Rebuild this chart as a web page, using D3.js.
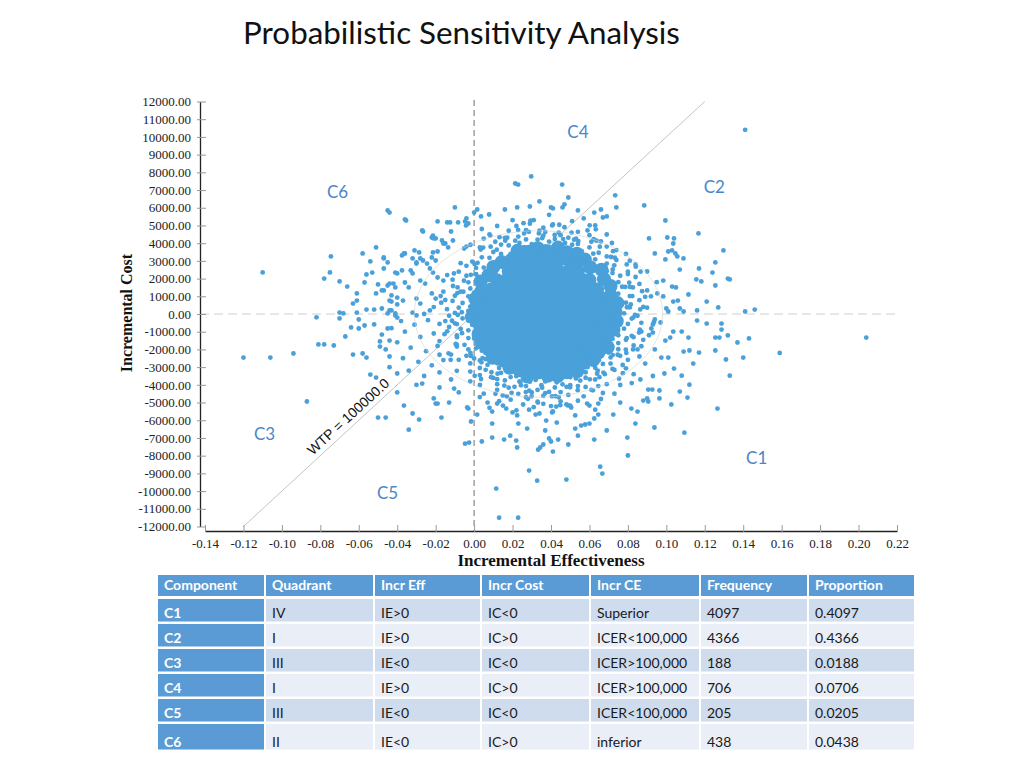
<!DOCTYPE html>
<html><head><meta charset="utf-8">
<script src="https://cdn.jsdelivr.net/npm/d3@7"></script>
<style>body{margin:0;background:#fff}svg{display:block}</style>
</head><body>
<svg id="chart" width="1024" height="768"></svg>
<script>
// ---------- DATA ----------
const xTicks = [-0.14,-0.12,-0.10,-0.08,-0.06,-0.04,-0.02,0.00,0.02,0.04,0.06,0.08,0.10,0.12,0.14,0.16,0.18,0.20,0.22];
const yTicks = [-12000,-11000,-10000,-9000,-8000,-7000,-6000,-5000,-4000,-3000,-2000,-1000,0,1000,2000,3000,4000,5000,6000,7000,8000,9000,10000,11000,12000];
const wtp = 100000;
const wtpEffRange = [-0.12, 0.12];

// dense centre of the cloud (drawn with large dots to render the solid blob)
const corePoints = [
[.024,3150],[.030,3250],[.036,3250],[.042,3250],[.048,3100],[.053,2900],[.019,2850],[.022,-2900],[.049,-2950],
[.028,2900],[.033,2880],[.038,2920],[.043,2900],
[.018,2400],[.023,2420],[.028,2380],[.034,2400],[.039,2410],[.044,2390],[.049,2400],[.054,2420],
[.012,1900],[.017,1920],[.022,1880],[.027,1900],[.032,1910],[.037,1890],[.042,1900],[.047,1920],[.052,1880],[.057,1900],[.060,1920],
[.009,1400],[.014,1420],[.019,1380],[.025,1400],[.030,1410],[.035,1390],[.040,1400],[.045,1420],[.050,1380],[.055,1400],[.060,1410],[.064,1390],
[.006,900],[.011,920],[.016,880],[.021,900],[.027,910],[.032,890],[.037,900],[.042,920],[.047,880],[.052,900],[.057,910],[.062,890],[.066,900],
[.005,400],[.009,420],[.014,380],[.019,400],[.024,410],[.029,390],[.034,400],[.040,420],[.045,380],[.050,400],[.055,410],[.060,390],[.065,400],[.068,420],
[.004,-100],[.008,-80],[.013,-120],[.018,-100],[.023,-90],[.028,-110],[.033,-100],[.038,-80],[.043,-120],[.048,-100],[.053,-90],[.058,-110],[.063,-100],[.068,-80],
[.005,-600],[.009,-580],[.014,-620],[.019,-600],[.024,-590],[.030,-610],[.035,-600],[.040,-580],[.045,-620],[.050,-600],[.055,-590],[.060,-610],[.065,-600],[.068,-620],
[.006,-1100],[.011,-1080],[.016,-1120],[.021,-1100],[.027,-1090],[.032,-1110],[.037,-1100],[.042,-1080],[.047,-1120],[.052,-1100],[.057,-1090],[.062,-1110],[.066,-1100],
[.009,-1600],[.014,-1580],[.019,-1620],[.024,-1600],[.030,-1590],[.035,-1610],[.040,-1600],[.045,-1580],[.050,-1620],[.055,-1600],[.060,-1590],[.064,-1610],
[.012,-2100],[.017,-2080],[.022,-2120],[.027,-2100],[.032,-2090],[.037,-2110],[.042,-2100],[.047,-2080],[.052,-2120],[.057,-2100],[.060,-2090],
[.018,-2600],[.023,-2580],[.028,-2620],[.034,-2600],[.039,-2590],[.044,-2610],[.049,-2600],[.054,-2580],
[.028,-3100],[.033,-3080],[.038,-3120],[.043,-3100]
];
// edge of the solid blob (also large dots)
const coreEdgePoints = [
[.0735,100],[.0746,615],[.071,1050],[.071,1580],[.0676,1970],[.0663,2500],[.0604,2640],[.0576,3080],[.0535,3400],[.0483,3490],[.0436,3750],[.0382,3550],[.0331,3710],[.0283,3520],[.0226,3570],[.0195,3060],[.0143,2930],[.010,2650],[.0075,2190],[.0034,1840],[.0037,1280],[.0006,855],[.001,350],[-.0012,-160],[.0028,-610],[.0023,-1130],[.0038,-1620],[.0075,-1990],[.0097,-2470],[.0152,-2620],[.0184,-3040],[.0235,-3170],[.0277,-3530],[.0333,-3300],[.0383,-3490],[.0435,-3510],[.0483,-3290],[.0536,-3230],[.0568,-2760],[.0619,-2600],[.0647,-2170],[.0695,-1880],[.069,-1290],[.0725,-890],[.0742,-410]
];

const innerRingPoints = [
[.072,-100],[.075,170],[.073,410],[.075,720],[.070,870],[.072,1190],[.070,1380],[.071,1740],[.068,1870],[.065,1980],[.066,2350],[.065,2670],[.061,2580],[.059,2850],[.058,3120],[.054,2990],[.053,3360],[.050,3310],[.048,3660],[.045,3300],[.043,3620],[.040,3520],[.037,3820],[.035,3610],[.032,3420],[.029,3660],[.026,3770],[.025,3330],[.022,3370],[.019,3390],[.018,2990],[.014,3090],[.013,2800],[.009,2840],[.011,2330],[.007,2330],[.006,2040],[.002,1980],[.003,1640],[.003,1340],[.000,1200],[-.003,1000],[.000,650],[-.002,420],[-.003,170],[.000,-100],[-.003,-370],[-.001,-610],[-.003,-920],[.002,-1070],[.000,-1390],[.002,-1580],[.001,-1940],[.004,-2070],[.007,-2180],[.006,-2550],[.007,-2870],[.012,-2780],[.013,-3050],[.014,-3320],[.018,-3190],[.019,-3560],[.022,-3510],[.024,-3860],[.027,-3500],[.029,-3820],[.032,-3720],[.035,-4020],[.037,-3810],[.040,-3620],[.043,-3860],[.046,-3970],[.047,-3530],[.050,-3570],[.053,-3590],[.054,-3190],[.058,-3290],[.059,-3000],[.063,-3040],[.062,-2530],[.065,-2600],[.066,-2240],[.070,-2180],[.069,-1840],[.069,-1540],[.072,-1400],[.075,-1200],[.072,-850],[.074,-620],[.075,-370],
[.078,40],[.081,370],[.079,640],[.081,1010],[.075,1150],[.077,1540],[.075,1800],[.076,2160],[.072,2310],[.069,2420],[.069,2850],[.069,3250],[.063,3090],[.062,3410],[.060,3760],[.056,3550],[.054,3960],[.051,3910],[.049,4310],[.045,3870],[.042,4230],[.039,4090],[.036,4420],[.033,4200],[.030,3950],[.027,4210],[.023,4370],[.022,3820],[.018,3870],[.014,3920],[.014,3400],[.010,3500],[.008,3170],[.004,3200],[.005,2620],[.001,2600],[.001,2250],[-.004,2160],[-.003,1790],[-.002,1440],[-.007,1260],[-.010,1030],[-.006,620],[-.008,360],[-.010,60],[-.006,-250],[-.009,-570],[-.007,-840],[-.009,-1210],[-.003,-1360],[-.005,-1740],[-.003,-2000],[-.004,-2360],[.000,-2510],[.003,-2620],[.003,-3050],[.003,-3450],[.009,-3290],[.010,-3610],[.012,-3960],[.016,-3750],[.018,-4160],[.021,-4110],[.023,-4510],[.027,-4070],[.030,-4430],[.033,-4290],[.036,-4620],[.039,-4400],[.042,-4150],[.045,-4410],[.049,-4570],[.050,-4020],[.054,-4070],[.058,-4120],[.058,-3600],[.063,-3700],[.064,-3370],[.068,-3400],[.067,-2820],[.071,-2800],[.071,-2450],[.076,-2360],[.075,-1990],[.075,-1640],[.079,-1460],[.082,-1230],[.078,-830],[.080,-560],[.082,-260]
];

const fringePoints = [
[.0795,380],[.0823,1010],[.0786,1530],[.080,2260],[.0721,2520],[.0712,3220],[.0648,3460],[.0622,4220],[.0542,4120],[.0473,4010],[.0419,4460],[.0354,4280],[.0285,4640],[.0236,4010],[.0162,4140],[.0118,3630],[.0034,3640],[.0018,2890],[.0009,2240],[-.0053,1880],[-.0056,1260],[-.0112,740],[-.0064,100],[-.010,-525],[-.0063,-1080],[-.009,-1840],[-.0019,-2200],[.0044,-2490],[.006,-3150],[.0122,-3370],[.0157,-4040],[.0236,-3810],[.0287,-4330],[.0354,-4160],[.0423,-4640],[.0481,-4110],[.053,-3640],[.0602,-3690],[.0643,-3200],[.072,-3100],[.0721,-2320],[.0789,-2010],[.0794,-1360],[.0862,-890],[.0828,-200],
[.0864,260],[.089,970],[.0826,1500],[.0866,2390],[.0794,2800],[.0732,3180],[.0717,4010],[.0637,4140],[.0601,5010],[.0507,4600],[.0443,5040],[.037,4630],[.0293,5270],[.0229,4750],[.0172,4310],[.0084,4430],[.0047,3750],[-.0052,3700],[-.004,2720],[-.0105,2290],[-.0086,1500],[-.0174,1010],[-.0141,270],[-.0115,-380],[-.0154,-1140],[-.0096,-1690],[-.0122,-2590],[-.002,-2790],[.0003,-3490],[.0088,-3570],[.0111,-4510],[.0195,-4450],[.0269,-4410],[.0332,-5000],[.0405,-4650],[.0488,-5160],[.0539,-4300],[.0618,-4310],[.0652,-3570],[.0754,-3650],[.0773,-2880],[.0792,-2200],[.087,-1820],[.0858,-1050],[.0935,-460],
[.0815,540],[.0874,1290],[.0807,1770],[.0841,2670],[.0729,2750],[.0723,3550],[.0654,3800],[.0633,4780],[.053,4250],[.0463,4230],[.0406,5000],[.0337,4550],[.0257,5130],[.0214,4140],[.0132,4340],[.0086,3800],[-.0019,3910],[.0002,2820],[-.0017,2210],[-.0112,1940],[-.0087,1180],[-.0171,640],[-.0085,-50],[-.013,-735],[-.0089,-1310],[-.0133,-2220],[-.0017,-2370],[.0038,-2730],[.0036,-3670],[.012,-3680],[.0149,-4600],[.0244,-4030],[.0299,-4650],[.037,-4470],[.0448,-5150],[.0499,-4140],[.0552,-3760],[.0646,-4070],[.0673,-3310],[.0774,-3340],[.0747,-2300],[.0827,-2000],[.0829,-1310],[.0922,-820],[.0837,-50]
];

const outerRingPoints = [
[.085,-100],[.090,360],[.086,780],[.090,1330],[.081,1530],[.084,2090],[.080,2390],[.081,3010],[.074,3050],[.074,3610],[.069,3810],[.069,4490],[.061,4080],[.059,4720],[.054,4640],[.051,5240],[.044,4590],[.041,5060],[.036,4870],[.031,5300],[.027,4730],[.022,4970],[.018,4700],[.012,4970],[.011,4080],[.005,4260],[.003,3760],[-.004,3810],[-.001,2960],[-.007,2870],[-.008,2390],[-.014,2200],[-.011,1580],[-.016,1260],[-.015,790],[-.021,390],[-.013,-100],[-.018,-560],[-.014,-980],[-.018,-1530],[-.009,-1730],[-.012,-2290],[-.008,-2590],[-.009,-3210],[-.002,-3250],[-.002,-3810],[.003,-4010],[.003,-4690],[.012,-4280],[.013,-4920],[.019,-4840],[.022,-5440],[.028,-4790],[.031,-5260],[.036,-5070],[.041,-5500],[.045,-4930],[.050,-5170],[.054,-4900],[.060,-5170],[.061,-4280],[.067,-4460],[.069,-3960],[.076,-4010],[.073,-3160],[.079,-3070],[.080,-2590],[.086,-2400],[.083,-1780],[.088,-1460],[.087,-990],[.093,-590],
[-.0354,5280],[-.0266,4660],[-.0214,4430],[-.020,4270],[-.014,5170],[-.0083,5170],[-.004,5400],[-.003,5110],[-.012,4660],[-.011,4150],[-.0167,4150],[-.015,3980],[-.0214,3480],[-.019,3530],[-.036,3420],[-.0375,3310],[-.032,3140],[-.030,2910],[-.0266,3020],[-.0245,2850],[-.047,3140],[-.045,2910],[-.041,2340],[-.040,2290],[-.033,2460],[-.032,2290],[-.023,2570],[-.0214,2340],[-.044,1720],[-.047,1330],[-.036,1780],[-.034,1500],[-.028,1890],[-.0255,1720],[-.019,2060],[-.016,1890],[-.040,930],[-.037,760],[-.030,870],[-.028,590],[-.022,1160],[-.020,870],[-.044,200],[-.041,30],[-.032,80],[-.030,-80],[-.023,200],
[-.038,-400],[-.031,-600],[-.024,-350],[-.036,-1000],[-.028,-1300],[-.021,-1100],[-.040,-1600],[-.033,-1900],[-.025,-2100],[-.019,-1800],[-.037,-2500],[-.029,-2700],[-.022,-2900],[-.016,-2600],[-.034,-3200],[-.026,-3500],[-.018,-3300],[-.012,-3700],[-.030,-4000],[-.043,-800],[-.046,-2000],[-.044,-3000],[-.015,-400],[-.026,0],[-.018,-2300],
[.088,400],[.092,1000],[.086,1700],[.090,2400],[.084,2800],[.087,-500],[.091,-1200],[.085,-2000],[.089,-2800],[.083,-3400],[.094,-2000],[.095,1800],[.093,-3500],[.079,3400],[.082,-3900],
[.008,4500],[.016,4300],[.026,4550],[.034,4700],[.045,4450],[.052,4200],[.060,4450],[.066,4100],[.004,4800],[.029,5100],[.047,4900],[.063,5000],[.020,5300],[.057,5400],[.039,5600],
[.005,-4500],[.017,-4650],[.027,-4700],[.033,-4950],[.044,-4700],[.057,-4650],[.066,-4800],[.073,-4500],[.076,-5000],[.063,-5400],[.008,-5300],[.040,-5200]
];

const tailPoints = [
[.141,10400],[.204,-1330],[.159,-2200],[-.110,2350],[-.120,-2460],[-.106,-2460],[-.094,-2230],[-.087,-4940],[-.082,-190],[-.0745,3250],[-.078,2000],[-.075,2350],[-.070,1840],[-.066,1550],[-.058,3420],[-.054,2970],[-.047,3190],[-.051,3760],[-.057,1780],[-.056,2230],[-.053,2340],[-.047,2570],[-.061,1160],[-.063,590],[-.061,760],[-.070,80],[-.068,30],[-.056,250],[-.052,250],[-.048,310],[-.061,80],[-.070,-250],[-.060,-310],[-.064,-760],[-.060,-820],[-.057,-650],[-.052,-590],[-.048,-1160],[-.067,-1270],[-.049,-1550],[-.049,-1840],[-.081,-1720],[-.078,-1720],[-.073,-1780],[-.063,-2290],[-.058,-2230],[-.056,-2460],[-.044,-2400],[-.054,-3420],[-.051,-3590],[-.050,-5850],[-.046,-5850],[-.040,-4430],[-.040,-3360],[-.048,1330],[-.043,1050],[-.045,1610],[-.042,1720],[-.050,1670],[-.051,1160],[-.043,700],[-.045,30],[-.041,-80],[-.043,200],[-.040,-200],[-.045,-820],[-.044,-1500],[-.041,1500],[-.044,760],[-.040,540],
[-.0365,-5170],[-.032,-5620],[-.0286,-5960],[-.034,-6530],[-.020,-5060],[-.017,-5850],[-.013,-5000],[-.0047,-7320],[-.0026,-7260],[-.003,-5340],[-.0016,-6070],[.0016,-5680],[.004,-7200],[.0094,-6190],[.0094,-6980],[.0094,-5510],[.0115,-9860],[.013,-11500],[.0229,-11500],[.0156,-7090],[.0188,-6870],[.0219,-7150],[.0224,-7540],[.023,-6190],[.0276,-6470],[.0286,-8840],[.0328,-9410],[.0333,-7660],[.0344,-7540],[.036,-7370],[.037,-6580],[.039,-7030],[.040,-7200],[.041,-7770],[.043,-6130],[.0437,-7090],[.049,-7370],[.048,-9350],[.054,-6870],[.0526,-6470],[.0625,-7090],[.0656,-8620],[.0667,-9010],[.069,-6580],[.0724,-5680],[.0797,-6980],[.080,-7990],[.0818,-5340],[.0839,-6190],[.085,-5510],[.0938,-6410],[.0906,-4940],
[.007,-5000],[.012,-5060],[.015,-5170],[.0167,-5340],[.020,-5560],[.0224,-5730],[.0255,-5110],[.0286,-5400],[.032,-5680],[.034,-5620],[.0375,-6020],[.0406,-5560],[.0427,-5230],[.048,-5110],[.0505,-5280],[.0526,-5730],[.0557,-6300],[.0578,-6240],[.060,-6190],[.0646,-5680],[.0625,-5900],[.0588,-5060],[.0646,-5060],
[.0885,6130],[.0995,5280],[.1167,4550],[.1297,3590],[.091,4270],[.1005,4320],[.104,4270],[.1036,3980],[.101,3530],[.103,3590],[.094,3420],[.0995,3080],[.1047,3420],[.1057,3250],[.1089,3140],[.1255,2910],[.117,2570],[.124,2340],[.132,2000],[.133,1950],[.1156,1950],[.1182,1840],[.1255,1610],[.107,2510],[.1115,1100],[.121,700],[.127,370],[.141,140],[.146,250],[.116,200],[.107,310],[.109,140],[.116,-370],[.121,-540],[.1287,-540],[.1287,-880],[.132,-1210],[.1255,-1330],[.1276,-1330],[.137,-1610],[.143,-1380],[.1115,-1330],[.109,-2120],[.112,-2060],[.117,-2180],[.1255,-2060],[.131,-2570],[.140,-2460],[.114,-2800],[.104,-3080],[.108,-3480],[.133,-3480],[.112,-3990],[.107,-4380],[.111,-4720],[.0964,-4770],[.0964,-4320],[.0906,-4270],[.0927,-4270],[.090,-4770],[.088,-4890],[.1026,-5110],[.1266,-5340],[.1094,-6700],[.099,-3360],[.0865,-3700],[.0974,-2460],[.101,-2460],[.0995,-1500],[.102,-1330],[.1036,-990],[.108,-990],[.093,-1050],[.094,-310],[.097,-480],[.100,310],[.101,140],[.1036,700],[.106,760],[.0984,990],[.103,1550],[.105,1500],[.0953,1160],[.0984,1890],
[.0297,7770],[.0214,7370],[.0229,7310],[.0458,7310],[.049,6580],[.0734,6700],[.074,6020],[.066,5900],[.069,5510],[.067,5450],[.0625,5730],[.054,5850],[.047,6190],[.046,6020],[.040,6020],[.041,5960],[.034,6360],[.029,6070],[.0224,6020],[.016,5900],[.0078,5620],[.0036,5510],[.0016,5900],[.000,5730],[-.010,6020],[-.0047,5230],[-.0042,5000],[-.0125,5170],[-.019,5230],[-.027,4720],[-.036,5340],[-.045,5850],[-.044,5730],[-.0365,3420],[-.031,3590],[-.0286,3480],[-.022,4320],[-.021,4270],[-.016,3980],[-.0135,3760],[-.022,3190],[-.020,3020],[-.030,2850],[-.028,3140],[-.0375,2460],
[-.021,-4770],[-.019,-5060],[-.027,-3930],[-.018,-4150],[-.0036,-5280],[-.0104,-4210],[-.008,-4430]
];

const confidenceEllipse = {eff: 0.0335, cost: 0, effRadius: 0.0646, costRadius: 4700};

const regionNames = ["C4","C6","C2","C3","C1","C5"];
const regionEff   = [0.054, -0.071, 0.125, -0.109, 0.147, -0.045];
const regionCost  = [10300, 6900, 7200, -6750, -8110, -10090];

const tableColumns = ["Component","Quadrant","Incr Eff","Incr Cost","Incr CE","Frequency","Proportion"];
const components = ["C1","C2","C3","C4","C5","C6"];
const quadrants  = ["IV","I","III","I","III","II"];
const incrEffSign  = ["IE>0","IE>0","IE<0","IE>0","IE<0","IE<0"];
const incrCostSign = ["IC<0","IC>0","IC<0","IC>0","IC<0","IC>0"];
const incrCE     = ["Superior","ICER<100,000","ICER>100,000","ICER>100,000","ICER<100,000","inferior"];
const frequency  = [4097, 4366, 188, 706, 205, 438];
const proportion = [0.4097, 0.4366, 0.0188, 0.0706, 0.0205, 0.0438];

// ---------- DRAW ----------
const svg = d3.select("#chart");
const x = d3.scaleLinear().domain([-0.14, 0.22]).range([205, 897]);
const y = d3.scaleLinear().domain([-12000, 12000]).range([526.5, 101.5]);
const fmt = d => d.toFixed(2);
const dotColor = "#4aa0d8";
const serif = "'Liberation Serif','Times New Roman',serif";
const sans = "Lato,'Open Sans',sans-serif";

// title
const title = svg.append("text").attr("x", 461.5).attr("y", 44).attr("text-anchor","middle")
  .style("font-family", sans).style("font-size","28px").attr("fill","#111")
  .text("Probabilistic Sensitivity Analysis");
const tw = title.node().getComputedTextLength();
if (tw > 0) title.style("font-size", (28*437/tw).toFixed(2)+"px");

const plot = svg.append("g");
// WTP line
plot.append("line")
  .attr("x1", x(wtpEffRange[0])).attr("y1", y(wtpEffRange[0]*wtp))
  .attr("x2", x(wtpEffRange[1])).attr("y2", y(wtpEffRange[1]*wtp))
  .attr("stroke","#c4c4c4").attr("stroke-width",1);
// dashed quadrant lines
plot.append("line").attr("x1", x(0)).attr("x2", x(0)).attr("y1", 100).attr("y2", 531)
  .attr("stroke","#888").attr("stroke-width",1.2).attr("stroke-dasharray","6,4");
plot.append("line").attr("x1", 200).attr("x2", x(0.22)).attr("y1", y(0)).attr("y2", y(0))
  .attr("stroke","#cfcfcf").attr("stroke-width",1.2).attr("stroke-dasharray","9,5");

// points
[corePoints, coreEdgePoints].forEach(arr => {
  plot.append("g").selectAll("circle").data(arr).join("circle")
    .attr("cx", d=>x(d[0])).attr("cy", d=>y(d[1])).attr("r", 7).attr("fill", dotColor);
});
[innerRingPoints, fringePoints, outerRingPoints, tailPoints].forEach(arr => {
  plot.append("g").selectAll("circle").data(arr).join("circle")
    .attr("cx", d=>x(d[0])).attr("cy", d=>y(d[1])).attr("r", 2.4).attr("fill", dotColor);
});

// confidence ellipse
plot.append("ellipse")
  .attr("cx", x(confidenceEllipse.eff)).attr("cy", y(confidenceEllipse.cost))
  .attr("rx", x(confidenceEllipse.eff + confidenceEllipse.effRadius) - x(confidenceEllipse.eff))
  .attr("ry", y(confidenceEllipse.cost) - y(confidenceEllipse.cost + confidenceEllipse.costRadius))
  .attr("fill","none").attr("stroke","#d4d4d4").attr("stroke-opacity",0.6).attr("stroke-width",1);

// WTP label
const ang = Math.atan2(y(wtpEffRange[1]*wtp)-y(wtpEffRange[0]*wtp), x(wtpEffRange[1])-x(wtpEffRange[0]))*180/Math.PI;
const lx = -0.062;
svg.append("text")
  .attr("transform", `translate(${x(lx)},${y(lx*wtp)}) rotate(${ang})`)
  .attr("dy", -5).attr("text-anchor","middle")
  .style("font-family","'Liberation Sans',Arial,sans-serif").style("font-size","14px").attr("fill","#111")
  .text("WTP = 100000.0");

// region labels
svg.append("g").selectAll("text").data(regionNames).join("text")
  .attr("x", (d,i)=>x(regionEff[i])).attr("y", (d,i)=>y(regionCost[i])).attr("dy","0.36em")
  .attr("text-anchor","middle").style("font-family", sans).style("font-size","17px")
  .attr("fill","#4a86c8").text(d=>d);

// axes
const gy = svg.append("g").attr("transform","translate(200,0)")
  .call(d3.axisLeft(y).tickValues(yTicks).tickFormat(fmt).tickSizeInner(-6).tickSizeOuter(0).tickPadding(9));
gy.select(".domain").attr("stroke","#222").attr("stroke-width",1.3);
gy.selectAll(".tick line").attr("x1",-3).attr("x2",6).attr("stroke","#999");
gy.selectAll(".tick text").style("font-family", serif).style("font-size","13px").attr("fill","#222");

const gx = svg.append("g").attr("transform","translate(0,531)")
  .call(d3.axisBottom(x).tickValues(xTicks).tickFormat(fmt).tickSizeInner(-6).tickSizeOuter(0).tickPadding(8));
gx.select(".domain").attr("stroke","#222").attr("stroke-width",1.3);
gx.selectAll(".tick line").attr("y1",1).attr("y2",-6).attr("stroke","#999");
gx.selectAll(".tick text").style("font-family", serif).style("font-size","13px").attr("fill","#222");

svg.append("text").attr("x", 551).attr("y", 566).attr("text-anchor","middle")
  .style("font-family", serif).style("font-size","17px").style("font-weight","bold").attr("fill","#111")
  .text("Incremental Effectiveness");
svg.append("text").attr("transform","translate(132,313) rotate(-90)").attr("text-anchor","middle")
  .style("font-family", serif).style("font-size","16px").style("font-weight","bold").attr("fill","#111")
  .text("Incremental Cost");

// table
const colEdges = [157,265,374,481,590,700,808,915];
const headTop = 575, headH = 21;
const rowTops = [599,624,649,674,699,724];
const rowHs = [24,24,24,24,24,27];
const rowBase = [19,19,19,19,19,23];
const headBlue = "#5b9bd5";
const tbl = svg.append("g");
tableColumns.forEach((c,j)=>{
  tbl.append("rect").attr("x", colEdges[j]+1).attr("y", headTop).attr("width", colEdges[j+1]-colEdges[j]-2).attr("height", headH).attr("fill", headBlue);
  tbl.append("text").attr("x", colEdges[j]+7).attr("y", headTop+15).style("font-family", sans).style("font-size","14px")
    .style("font-weight","bold").attr("fill","#fff").text(c);
});
components.forEach((comp,i)=>{
  const cells = [comp, quadrants[i], incrEffSign[i], incrCostSign[i], incrCE[i], String(frequency[i]), proportion[i].toFixed(4)];
  cells.forEach((t,j)=>{
    const fill = j===0 ? headBlue : (i%2===0 ? "#cfdcee" : "#e9eef7");
    tbl.append("rect").attr("x", colEdges[j]+1).attr("y", rowTops[i]).attr("width", colEdges[j+1]-colEdges[j]-2).attr("height", rowHs[i]-1.5).attr("fill", fill);
    tbl.append("text").attr("x", colEdges[j]+7).attr("y", rowTops[i]+rowBase[i])
      .style("font-family", sans).style("font-size","14px")
      .style("font-weight", j===0 ? "bold" : "normal").attr("fill", j===0 ? "#fff" : "#1a1a1a").text(t);
  });
});
</script>
</body></html>
